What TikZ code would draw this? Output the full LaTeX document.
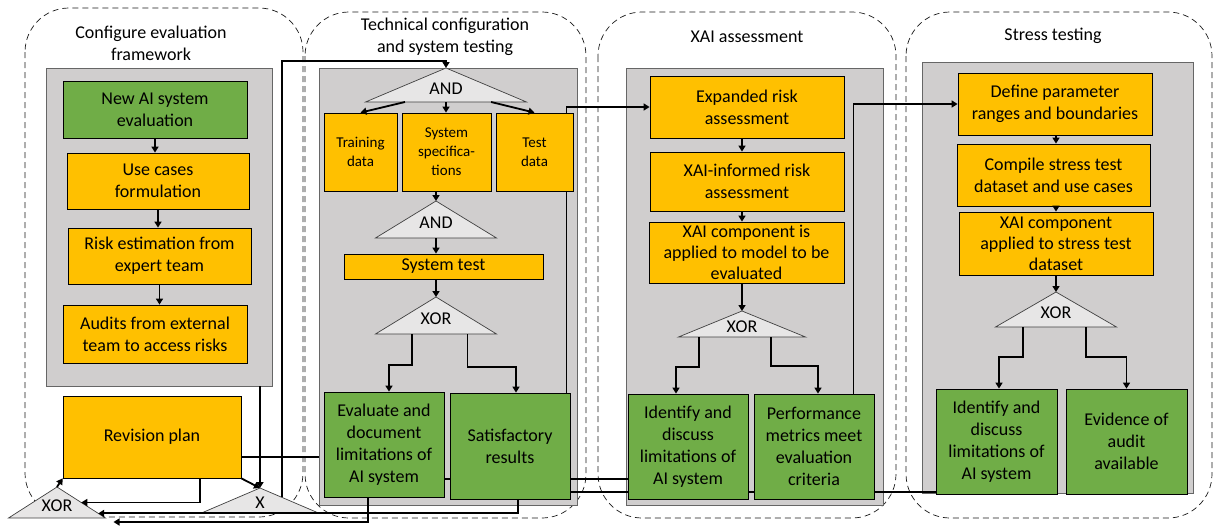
\documentclass[tikz,border=0pt]{standalone}
\usepackage{fontspec}
\setmainfont{Carlito}
\usetikzlibrary{arrows.meta, positioning, calc}
\definecolor{boxorange}{HTML}{FFC000}
\definecolor{boxgreen}{HTML}{70AD47}
\definecolor{areagray}{HTML}{D0CECE}
\definecolor{gategray}{HTML}{E7E6E6}
\pgfdeclarelayer{bg}
\pgfdeclarelayer{back}
\pgfsetlayers{bg,back,main}

\begin{document}
\begin{tikzpicture}[x=1pt, y=-1pt,
    font=\fontsize{18}{22}\selectfont,
    sz/.style 2 args={minimum width=#1pt, minimum height=#2pt},
    box/.style={draw=black, line width=0.8pt, align=center, inner sep=2pt},
    task/.style={box, fill=boxorange},
    result/.style={box, fill=boxgreen},
    small/.style={font=\fontsize{15}{19}\selectfont},
    tight/.style={inner sep=0pt, font=\fontsize{18}{21}\selectfont},
    area/.style={draw=black!60, fill=areagray, line width=0.8pt},
    panel/.style={draw=black!90, dash pattern=on 6pt off 4pt, line width=0.7pt, rounded corners=44pt},
    gate/.style={draw=black!75, fill=gategray, line width=0.7pt},
    gatetext/.style={inner sep=0pt},
    arr/.style={line width=1.8pt, -{Triangle[length=6pt,width=7pt]}},
    link/.style={line width=1.8pt},
  ]
    \useasboundingbox (0,0) rectangle (1216,530);

    % Configure evaluation framework
    \node[result, sz={184}{57}] (newai) at (155,109.5) {New AI system\\evaluation};
    \node[task, sz={182}{56}] (usecases) at (158,181) {Use cases\\formulation};
    \node[task, sz={183}{56}] (riskest) at (159.5,256) {Risk estimation from\\expert team};
    \node[task, sz={184}{58}] (audits) at (155,334) {Audits from external\\team to access risks};
    \node[task, sz={178}{82}] (revision) at (152,437) {Revision plan};

    % Technical configuration and system testing
    \node[task, small, sz={73}{78}] (train) at (360.5,152) {Training\\data};
    \node[task, small, sz={89}{78}] (spec) at (446.5,152) {System\\specifica-\\tions};
    \node[task, small, sz={77}{78}] (testd) at (534.5,152) {Test\\data};
    \node[task, sz={199}{25}] (systest) at (443.5,266.5) {System test};
    \node[result, sz={120}{105}] (evaldoc) at (384,444.5) {Evaluate and\\document\\limitations of\\AI system};
    \node[result, sz={120}{106}] (satis) at (510,446) {Satisfactory\\results};

    % XAI assessment
    \node[task, sz={194}{62}] (expand) at (747,107) {Expanded risk\\assessment};
    \node[task, sz={194}{59}] (xaiinf) at (747,181.5) {XAI-informed risk\\assessment};
    \node[task, tight, sz={195}{61}] (xaicomp) at (746.5,252.5) {XAI component is\\applied to model to be\\evaluated};
    \node[result, sz={120}{105}] (ident3) at (688,446.5) {Identify and\\discuss\\limitations of\\AI system};
    \node[result, sz={120}{105}] (perf) at (814,446.5) {Performance\\metrics meet\\evaluation\\criteria};

    % Stress testing
    \node[task, sz={194}{62}] (define) at (1055,104) {Define parameter\\ranges and boundaries};
    \node[task, sz={193}{62}] (compile) at (1053.5,175) {Compile stress test\\dataset and use cases};
    \node[task, tight, sz={194}{63}] (xaistress) at (1056,243.5) {XAI component\\applied to stress test\\dataset};
    \node[result, sz={121}{105}] (ident4) at (996.5,441.5) {Identify and\\discuss\\limitations of\\AI system};
    \node[result, sz={121}{105}] (evidence) at (1126.5,441.5) {Evidence of\\audit\\available};

    % Gates (apex, half width, height)
    \foreach \g/\gx/\gy/\gw/\gh/\gt in {xo1/57/487/48.5/31/XOR, xg/260/488/58.5/25/X,
        a1/446/68/80.5/34/AND, a2/436/201/60.5/37/AND, xo2/436/297/60.5/37/XOR,
        xo3/742/311/63.5/26/XOR, xo4/1056/292/60.5/35/XOR} {
      \draw[gate] (\gx,\gy) coordinate (\g) -- ++(-\gw,\gh) coordinate (\g-l)
        -- ++(2*\gw,0) coordinate (\g-r) -- cycle;
      \coordinate (\g-b) at (\gx,\gy+\gh);
      \node[gatetext] (\g-t) at (\gx,\gy+0.6*\gh) {\gt};
    }

    % Stages and their working areas
    \begin{pgfonlayer}{bg}
      \draw[panel] (25,8) rectangle (303,517);
      \draw[panel] (305,12) rectangle (586,518);
      \draw[panel] (598,12) rectangle (896,518);
      \draw[panel] (906,12) rectangle (1212,518);
      \node[area, sz={226}{318}] (bg1) at (159,227) {};
      \node[area, sz={258}{437}] (bg2) at (448,286.5) {};
      \node[area, sz={257}{437}] (bg3) at (754.5,286.5) {};
      \node[area, sz={271}{431}] (bg4) at (1057.5,277.5) {};
    \end{pgfonlayer}
    \node[align=center] (t1) at (151,43) {Configure evaluation\\framework};
    \node[align=center] (t2) at (445,37) {Technical configuration\\and system testing};
    \node (t3) at (747,37) {XAI assessment};
    \node (t4) at (1053,36) {Stress testing};

    % Configure evaluation framework flow
    \draw[arr] (newai.south) -- (newai.south |- usecases.north);
    \draw[arr] (usecases.south) -- (usecases.south |- riskest.north);
    \draw[arr] (riskest.south) -- (riskest.south |- audits.north);
    \draw[arr] (xg |- bg1.south) -- (xg);
    \draw[arr] (revision.south east) -- (xg);
    \draw[arr] (xo1) -- (revision.south west);
    \draw[arr] ([xshift=48pt]revision.south) |- ($(xo1)!0.5!(xo1-r)$);
    \draw[link] ([yshift=-20pt]revision.east) -- ([yshift=-20pt]revision.east -| bg2.west);
    \draw[arr] ($(xg)!0.37!(xg-r)$) |- ([yshift=7pt]a1) -- (a1);

    % Technical configuration flow
    \draw[arr] ($(a1-l)!0.245!(a1-r)$) -- (train.north);
    \draw[arr] (a1-b) -- (a1-b |- spec.north);
    \draw[arr] ($(a1-l)!0.78!(a1-r)$) -- (testd.north);
    \draw[arr] (a2 |- spec.south) -- (a2);
    \draw[arr] (a2-b) -- (a2-b |- systest.north);
    \draw[arr] (xo2 |- systest.south) -- (xo2);
    \draw[arr] ($(xo2-l)!0.3!(xo2-r)$) -- ++(0,31) -| ([xshift=5pt]evaldoc.north);
    \draw[arr] ($(xo2-l)!0.76!(xo2-r)$) -- ++(0,33) -| ([xshift=6pt]satis.north);

    % Back to revision
    \draw[arr] ([xshift=8pt]satis.south) |- ($(xo1)!0.85!(xo1-r)$);
    \draw[arr] ([xshift=-16pt]evaldoc.south) |- ([shift={(8pt,-4pt)}]xo1-r);

    % Lines running behind the boxes
    \begin{pgfonlayer}{back}
      \draw[arr] ([xshift=-4pt]satis.north east) |- (expand.west);
      \draw[link] ([yshift=-34.5pt]evaldoc.east) -- ([yshift=-34.5pt]evaldoc.east -| ident3.west);
      \draw[link] ([yshift=-46pt]satis.east) -- ([yshift=-46pt]satis.east -| ident4.west);
    \end{pgfonlayer}

    % XAI assessment flow
    \draw[arr] (xo3 |- expand.south) -- (xo3 |- xaiinf.north);
    \draw[arr] (xo3 |- xaiinf.south) -- (xo3 |- xaicomp.north);
    \draw[arr] (xo3 |- xaicomp.south) -- (xo3);
    \draw[arr] ($(xo3-l)!0.16!(xo3-r)$) -- ++(0,30) -| ([xshift=-12pt]ident3.north);
    \draw[arr] ($(xo3-l)!0.73!(xo3-r)$) -- ++(0,29) -| ([xshift=4pt]perf.north);
    \draw[arr] ([xshift=-21pt]perf.north east) |- (define.west);

    % Stress testing flow
    \draw[arr] (xo4 |- define.south) -- (xo4 |- compile.north);
    \draw[arr] (xo4 |- compile.south) -- (xo4 |- xaistress.north);
    \draw[arr] (xo4 |- xaistress.south) -- (xo4);
    \draw[arr] ($(xo4-l)!0.23!(xo4-r)$) -- ++(0,30) -| ([xshift=2.5pt]ident4.north);
    \draw[arr] ($(xo4-l)!0.75!(xo4-r)$) -- ++(0,30) -| (evidence.north);
\end{tikzpicture}
\end{document}
